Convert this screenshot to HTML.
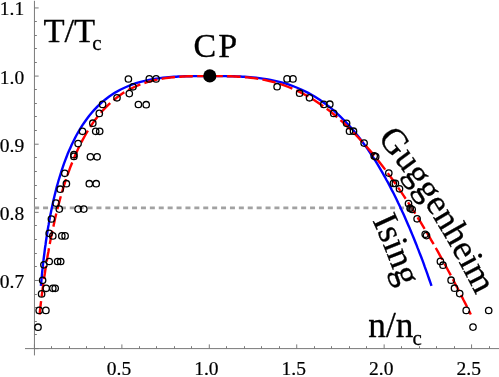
<!DOCTYPE html>
<html><head><meta charset="utf-8"><title>chart</title>
<style>html,body{margin:0;padding:0;background:#fff}body{width:499px;height:377px;overflow:hidden;font-family:"Liberation Serif",serif}</style>
</head><body>
<svg width="499" height="377" viewBox="0 0 499 377" style="display:block;will-change:transform">
<g stroke="#7a7a7a" stroke-width="1.0" fill="none">
<line x1="25" y1="348.6" x2="499" y2="348.6"/>
<line x1="34.45" y1="0.8" x2="34.45" y2="355.4"/>
<line x1="34.45" y1="348.6" x2="34.45" y2="344.40"/>
<line x1="51.50" y1="348.6" x2="51.50" y2="346.20"/>
<line x1="69.50" y1="348.6" x2="69.50" y2="346.20"/>
<line x1="86.50" y1="348.6" x2="86.50" y2="346.20"/>
<line x1="104.50" y1="348.6" x2="104.50" y2="346.20"/>
<line x1="121.88" y1="348.6" x2="121.88" y2="344.40"/>
<line x1="139.50" y1="348.6" x2="139.50" y2="346.20"/>
<line x1="156.50" y1="348.6" x2="156.50" y2="346.20"/>
<line x1="174.50" y1="348.6" x2="174.50" y2="346.20"/>
<line x1="191.50" y1="348.6" x2="191.50" y2="346.20"/>
<line x1="209.30" y1="348.6" x2="209.30" y2="344.40"/>
<line x1="226.50" y1="348.6" x2="226.50" y2="346.20"/>
<line x1="244.50" y1="348.6" x2="244.50" y2="346.20"/>
<line x1="261.50" y1="348.6" x2="261.50" y2="346.20"/>
<line x1="279.50" y1="348.6" x2="279.50" y2="346.20"/>
<line x1="296.72" y1="348.6" x2="296.72" y2="344.40"/>
<line x1="314.50" y1="348.6" x2="314.50" y2="346.20"/>
<line x1="331.50" y1="348.6" x2="331.50" y2="346.20"/>
<line x1="349.50" y1="348.6" x2="349.50" y2="346.20"/>
<line x1="366.50" y1="348.6" x2="366.50" y2="346.20"/>
<line x1="384.15" y1="348.6" x2="384.15" y2="344.40"/>
<line x1="401.50" y1="348.6" x2="401.50" y2="346.20"/>
<line x1="419.50" y1="348.6" x2="419.50" y2="346.20"/>
<line x1="436.50" y1="348.6" x2="436.50" y2="346.20"/>
<line x1="454.50" y1="348.6" x2="454.50" y2="346.20"/>
<line x1="471.57" y1="348.6" x2="471.57" y2="344.40"/>
<line x1="489.50" y1="348.6" x2="489.50" y2="346.20"/>
<line x1="34.45" y1="348.60" x2="38.65" y2="348.60"/>
<line x1="34.45" y1="334.50" x2="36.85" y2="334.50"/>
<line x1="34.45" y1="321.50" x2="36.85" y2="321.50"/>
<line x1="34.45" y1="307.50" x2="36.85" y2="307.50"/>
<line x1="34.45" y1="294.50" x2="36.85" y2="294.50"/>
<line x1="34.45" y1="280.47" x2="38.65" y2="280.47"/>
<line x1="34.45" y1="266.50" x2="36.85" y2="266.50"/>
<line x1="34.45" y1="253.50" x2="36.85" y2="253.50"/>
<line x1="34.45" y1="239.50" x2="36.85" y2="239.50"/>
<line x1="34.45" y1="225.50" x2="36.85" y2="225.50"/>
<line x1="34.45" y1="212.34" x2="38.65" y2="212.34"/>
<line x1="34.45" y1="198.50" x2="36.85" y2="198.50"/>
<line x1="34.45" y1="185.50" x2="36.85" y2="185.50"/>
<line x1="34.45" y1="171.50" x2="36.85" y2="171.50"/>
<line x1="34.45" y1="157.50" x2="36.85" y2="157.50"/>
<line x1="34.45" y1="144.21" x2="38.65" y2="144.21"/>
<line x1="34.45" y1="130.50" x2="36.85" y2="130.50"/>
<line x1="34.45" y1="116.50" x2="36.85" y2="116.50"/>
<line x1="34.45" y1="103.50" x2="36.85" y2="103.50"/>
<line x1="34.45" y1="89.50" x2="36.85" y2="89.50"/>
<line x1="34.45" y1="76.08" x2="38.65" y2="76.08"/>
<line x1="34.45" y1="62.50" x2="36.85" y2="62.50"/>
<line x1="34.45" y1="48.50" x2="36.85" y2="48.50"/>
<line x1="34.45" y1="35.50" x2="36.85" y2="35.50"/>
<line x1="34.45" y1="21.50" x2="36.85" y2="21.50"/>
<line x1="34.45" y1="7.95" x2="38.65" y2="7.95"/>
</g>
<g font-family="Liberation Serif, serif" font-size="19.5" fill="#000" stroke="#000" stroke-width="0.2">
<text x="119.0" y="375.4" text-anchor="middle">0.5</text>
<text x="206.4" y="375.4" text-anchor="middle">1.0</text>
<text x="293.8" y="375.4" text-anchor="middle">1.5</text>
<text x="381.2" y="375.4" text-anchor="middle">2.0</text>
<text x="468.7" y="375.4" text-anchor="middle">2.5</text>
<text x="24.2" y="287.9" text-anchor="end">0.7</text>
<text x="24.2" y="219.7" text-anchor="end">0.8</text>
<text x="24.2" y="151.6" text-anchor="end">0.9</text>
<text x="24.2" y="83.5" text-anchor="end">1.0</text>
<text x="24.2" y="15.3" text-anchor="end">1.1</text>
</g>
<line x1="34.45" y1="207.8" x2="412" y2="207.8" stroke="#a2a2a2" stroke-width="2.8" stroke-dasharray="5 3.9" stroke-dashoffset="0.3"/>
<path d="M40.9 285.9L41.2 282.7L41.5 279.5L41.8 276.3L42.1 273.1L42.4 269.9L42.8 266.7L43.1 263.4L43.5 260.2L43.9 257.0L44.3 253.8L44.7 250.6L45.1 247.4L45.6 244.2L46.0 241.0L46.5 237.8L47.0 234.6L47.5 231.3L48.0 228.1L48.6 224.9L49.1 221.7L49.7 218.5L50.3 215.3L51.0 212.1L51.6 208.9L52.3 205.7L53.0 202.5L53.7 199.2L54.5 196.0L55.3 192.8L56.1 189.6L56.9 186.4L57.8 183.2L58.7 180.0L59.7 176.8L60.7 173.6L61.7 170.4L62.8 167.1L63.9 163.9L65.1 160.7L66.3 157.5L67.5 154.3L68.9 151.1L70.3 147.9L71.7 144.7L73.3 141.5L74.9 138.3L76.6 135.0L78.4 131.8L80.3 128.6L82.3 125.4L84.5 122.2L86.8 119.0L89.2 115.8L91.9 112.6L94.7 109.4L97.8 106.1L101.2 102.9L105.0 99.7L109.2 96.5L109.2 96.5L115.1 92.6L120.7 89.5L126.1 87.0L131.2 84.9L136.0 83.2L140.6 81.9L144.9 80.8L149.0 79.9L152.8 79.2L156.5 78.6L159.9 78.1L163.0 77.7L166.0 77.4L168.9 77.2L171.5 77.0L174.0 76.8L176.3 76.7L178.4 76.5L180.5 76.5L182.4 76.4L184.1 76.3L185.8 76.3L187.3 76.2L188.8 76.2L190.1 76.2L191.4 76.2L192.6 76.1L193.7 76.1L194.7 76.1L195.7 76.1L196.6 76.1L197.4 76.1L198.2 76.1L199.0 76.1L199.6 76.1L200.3 76.1L200.9 76.1L201.4 76.1L202.0 76.1L202.5 76.1L202.9 76.1L203.3 76.1L203.7 76.1L204.1 76.1L204.4 76.1L204.8 76.1L205.1 76.1L205.3 76.1L205.6 76.1L209.3 76.1L209.3 76.1L213.0 76.1L213.3 76.1L213.5 76.1L213.8 76.1L214.2 76.1L214.5 76.1L214.9 76.1L215.3 76.1L215.7 76.1L216.1 76.1L216.6 76.1L217.2 76.1L217.7 76.1L218.3 76.1L219.0 76.1L219.6 76.1L220.4 76.1L221.2 76.1L222.0 76.1L222.9 76.1L223.9 76.1L224.9 76.1L226.0 76.1L227.2 76.2L228.5 76.2L229.8 76.2L231.3 76.2L232.9 76.3L234.5 76.3L236.3 76.4L238.2 76.5L240.3 76.5L242.5 76.7L244.8 76.8L247.3 77.0L250.0 77.2L252.9 77.4L256.0 77.7L259.3 78.1L262.8 78.6L266.5 79.2L270.6 79.9L274.9 80.8L279.5 81.9L284.4 83.2L289.7 84.9L295.3 87.0L301.3 89.5L307.7 92.6L314.6 96.5L314.6 96.5L319.7 99.7L324.2 102.9L328.5 106.1L332.4 109.4L336.1 112.6L339.6 115.8L342.8 119.0L346.0 122.2L348.9 125.4L351.8 128.6L354.5 131.8L357.1 135.0L359.7 138.3L362.1 141.5L364.5 144.7L366.8 147.9L369.0 151.1L371.1 154.3L373.2 157.5L375.3 160.7L377.3 163.9L379.2 167.1L381.1 170.4L383.0 173.6L384.8 176.8L386.5 180.0L388.3 183.2L390.0 186.4L391.6 189.6L393.3 192.8L394.9 196.0L396.5 199.2L398.0 202.5L399.6 205.7L401.1 208.9L402.5 212.1L404.0 215.3L405.4 218.5L406.8 221.7L408.2 224.9L409.6 228.1L410.9 231.3L412.3 234.6L413.6 237.8L414.9 241.0L416.2 244.2L417.4 247.4L418.7 250.6L419.9 253.8L421.2 257.0L422.4 260.2L423.6 263.4L424.7 266.7L425.9 269.9L427.1 273.1L428.2 276.3L429.3 279.5L430.4 282.7L431.5 285.9" fill="none" stroke="#0000ff" stroke-width="2.4" stroke-linejoin="round"/>
<g fill="none" stroke="#ff0000" stroke-width="2.4" stroke-dasharray="13.5 4.3" stroke-linejoin="round">
<path d="M39.6 314.5L40.0 310.8L40.4 307.1L40.8 303.4L41.3 299.8L41.7 296.1L42.2 292.4L42.7 288.7L43.2 285.0L43.7 281.3L44.2 277.6L44.8 273.9L45.3 270.2L45.9 266.5L46.5 262.8L47.1 259.1L47.7 255.4L48.4 251.7L49.0 248.0L49.7 244.3L50.4 240.6L51.1 236.9L51.9 233.2L52.7 229.5L53.5 225.9L54.3 222.2L55.1 218.5L56.0 214.8L56.9 211.1L57.8 207.4L58.8 203.7L59.8 200.0L60.8 196.3L61.9 192.6L63.0 188.9L64.1 185.2L65.3 181.5L66.5 177.8L67.8 174.1L69.2 170.4L70.5 166.7L72.0 163.0L73.5 159.3L75.1 155.6L76.7 151.9L78.4 148.3L80.2 144.6L82.1 140.9L84.1 137.2L86.2 133.5L88.4 129.8L90.8 126.1L93.3 122.4L96.0 118.7L98.9 115.0L102.1 111.3L105.5 107.6L109.3 103.9L113.5 100.2L118.2 96.5L118.2 96.5L123.8 92.6L129.2 89.5L134.4 87.0L139.2 84.9L143.7 83.2L148.0 81.9L152.0 80.8L155.8 79.9L159.3 79.2L162.6 78.6L165.7 78.1L168.6 77.7L171.3 77.4L173.9 77.2L176.3 77.0L178.5 76.8L180.5 76.7L182.5 76.5L184.3 76.5L186.0 76.4L187.5 76.3L189.0 76.3L190.4 76.2L191.7 76.2L192.9 76.2L194.0 76.2L195.0 76.1L196.0 76.1L196.9 76.1L197.7 76.1L198.5 76.1L199.2 76.1L199.9 76.1L200.5 76.1L201.1 76.1L201.7 76.1L202.2 76.1L202.7 76.1L203.1 76.1L203.5 76.1L203.9 76.1L204.3 76.1L204.6 76.1L205.0 76.1L205.2 76.1L205.5 76.1L205.8 76.1L206.0 76.1L206.2 76.1L209.3 76.1"/>
<path d="M209.3 76.1L212.4 76.1L212.6 76.1L212.8 76.1L213.1 76.1L213.4 76.1L213.6 76.1L214.0 76.1L214.3 76.1L214.7 76.1L215.1 76.1L215.5 76.1L215.9 76.1L216.4 76.1L216.9 76.1L217.5 76.1L218.1 76.1L218.7 76.1L219.4 76.1L220.1 76.1L220.9 76.1L221.7 76.1L222.7 76.1L223.6 76.1L224.7 76.2L225.8 76.2L227.0 76.2L228.3 76.2L229.7 76.3L231.1 76.3L232.7 76.4L234.5 76.5L236.3 76.5L238.3 76.7L240.4 76.8L242.7 77.0L245.1 77.2L247.8 77.4L250.6 77.7L253.6 78.1L256.9 78.6L260.5 79.2L264.3 79.9L268.4 80.8L272.8 81.9L277.6 83.2L282.8 84.9L288.4 87.0L294.5 89.5L301.1 92.6L308.3 96.5L308.3 96.5L314.4 100.2L320.0 103.9L325.2 107.6L330.1 111.3L334.6 115.0L339.0 118.7L343.1 122.4L347.0 126.1L350.8 129.8L354.5 133.5L358.0 137.2L361.4 140.9L364.7 144.6L368.0 148.3L371.1 151.9L374.2 155.6L377.2 159.3L380.1 163.0L383.0 166.7L385.8 170.4L388.5 174.1L391.2 177.8L393.9 181.5L396.5 185.2L399.0 188.9L401.6 192.6L404.1 196.3L406.5 200.0L408.9 203.7L411.3 207.4L413.7 211.1L416.0 214.8L418.3 218.5L420.6 222.2L422.8 225.9L425.0 229.5L427.2 233.2L429.4 236.9L431.5 240.6L433.7 244.3L435.8 248.0L437.9 251.7L439.9 255.4L442.0 259.1L444.0 262.8L446.0 266.5L448.0 270.2L450.0 273.9L452.0 277.6L453.9 281.3L455.8 285.0L457.8 288.7L459.7 292.4L461.6 296.1L463.4 299.8L465.3 303.4L467.2 307.1L469.0 310.8L470.8 314.5"/>
</g>
<circle cx="409.8" cy="208.7" r="3.2" fill="#444" fill-opacity="0.8"/>
<g fill="none" stroke="#000" stroke-width="1.3">
<circle cx="38.0" cy="327.2" r="3.2"/>
<circle cx="39.2" cy="310.4" r="3.2"/>
<circle cx="45.9" cy="310.4" r="3.2"/>
<circle cx="41.6" cy="293.9" r="3.2"/>
<circle cx="46.2" cy="288.3" r="3.2"/>
<circle cx="52.8" cy="288.3" r="3.2"/>
<circle cx="55.2" cy="288.3" r="3.2"/>
<circle cx="42.6" cy="280.3" r="3.2"/>
<circle cx="43.9" cy="264.8" r="3.2"/>
<circle cx="49.2" cy="261.5" r="3.2"/>
<circle cx="57.6" cy="261.5" r="3.2"/>
<circle cx="60.7" cy="261.5" r="3.2"/>
<circle cx="49.2" cy="233.3" r="3.2"/>
<circle cx="52.8" cy="235.9" r="3.2"/>
<circle cx="61.8" cy="235.9" r="3.2"/>
<circle cx="65.1" cy="235.9" r="3.2"/>
<circle cx="51.4" cy="219.0" r="3.2"/>
<circle cx="55.9" cy="203.1" r="3.2"/>
<circle cx="59.3" cy="209.1" r="3.2"/>
<circle cx="78.1" cy="209.1" r="3.2"/>
<circle cx="83.8" cy="209.1" r="3.2"/>
<circle cx="60.2" cy="189.2" r="3.2"/>
<circle cx="66.4" cy="183.7" r="3.2"/>
<circle cx="89.3" cy="183.7" r="3.2"/>
<circle cx="96.2" cy="183.7" r="3.2"/>
<circle cx="64.8" cy="173.3" r="3.2"/>
<circle cx="73.9" cy="154.7" r="3.2"/>
<circle cx="73.9" cy="156.4" r="3.2"/>
<circle cx="90.4" cy="156.8" r="3.2"/>
<circle cx="97.1" cy="156.8" r="3.2"/>
<circle cx="78.1" cy="143.6" r="3.2"/>
<circle cx="82.5" cy="131.3" r="3.2"/>
<circle cx="95.7" cy="131.3" r="3.2"/>
<circle cx="99.7" cy="131.3" r="3.2"/>
<circle cx="92.8" cy="123.2" r="3.2"/>
<circle cx="99.3" cy="113.4" r="3.2"/>
<circle cx="102.6" cy="104.4" r="3.2"/>
<circle cx="138.4" cy="104.5" r="3.2"/>
<circle cx="146.2" cy="104.7" r="3.2"/>
<circle cx="117.0" cy="97.8" r="3.2"/>
<circle cx="129.3" cy="93.6" r="3.2"/>
<circle cx="133.0" cy="86.8" r="3.2"/>
<circle cx="128.4" cy="79.0" r="3.2"/>
<circle cx="149.3" cy="78.9" r="3.2"/>
<circle cx="156.1" cy="78.9" r="3.2"/>
<circle cx="287.05" cy="78.9" r="3.2"/>
<circle cx="293.0" cy="78.9" r="3.2"/>
<circle cx="277.1" cy="86.7" r="3.2"/>
<circle cx="299.6" cy="93.2" r="3.2"/>
<circle cx="309.5" cy="97.8" r="3.2"/>
<circle cx="323.8" cy="104.4" r="3.2"/>
<circle cx="329.8" cy="104.2" r="3.2"/>
<circle cx="333.7" cy="113.4" r="3.2"/>
<circle cx="346.6" cy="123.3" r="3.2"/>
<circle cx="349.5" cy="131.2" r="3.2"/>
<circle cx="353.5" cy="131.2" r="3.2"/>
<circle cx="364.1" cy="143.1" r="3.2"/>
<circle cx="374.2" cy="155.9" r="3.2"/>
<circle cx="375.7" cy="156.7" r="3.2"/>
<circle cx="388.8" cy="173.1" r="3.2"/>
<circle cx="393.4" cy="183.4" r="3.2"/>
<circle cx="395.4" cy="183.4" r="3.2"/>
<circle cx="399.5" cy="188.8" r="3.2"/>
<circle cx="408.5" cy="203.6" r="3.2"/>
<circle cx="410.2" cy="208.2" r="3.2"/>
<circle cx="412.2" cy="209.5" r="3.2"/>
<circle cx="417.1" cy="218.8" r="3.2"/>
<circle cx="425.2" cy="234.3" r="3.2"/>
<circle cx="426.5" cy="235.6" r="3.2"/>
<circle cx="440.4" cy="261.4" r="3.2"/>
<circle cx="443.0" cy="265.2" r="3.2"/>
<circle cx="451.1" cy="280.2" r="3.2"/>
<circle cx="454.5" cy="288.2" r="3.2"/>
<circle cx="459.7" cy="293.6" r="3.2"/>
<circle cx="466.2" cy="310.4" r="3.2"/>
<circle cx="488.7" cy="310.5" r="3.2"/>
<circle cx="473.0" cy="327.1" r="3.2"/>
</g>
<circle cx="209.8" cy="75.9" r="6.6" fill="#000"/>
<g font-family="Liberation Serif, serif" font-size="36" fill="#000" stroke="#000" stroke-width="0.3" stroke-linejoin="round">
<text x="43.4" y="42.1" font-size="34.6">T/T<tspan font-size="21" dx="-3" dy="8">c</tspan></text>
<text x="193.5" y="57.2" font-size="34" letter-spacing="2">CP</text>
<text x="368.3" y="337.3" font-size="35.3">n/n<tspan font-size="21" dx="-0.8" dy="8">c</tspan></text>
<text transform="translate(377.34,138.44) rotate(50.91)" font-size="36">G</text>
<text transform="translate(393.65,158.68) rotate(53.55)" font-size="36">u</text>
<text transform="translate(404.34,173.17) rotate(55.35)" font-size="36">g</text>
<text transform="translate(414.57,187.98) rotate(56.90)" font-size="36">g</text>
<text transform="translate(424.39,203.07) rotate(58.17)" font-size="36">e</text>
<text transform="translate(432.82,216.64) rotate(59.29)" font-size="36">n</text>
<text transform="translate(442.01,232.12) rotate(60.34)" font-size="36">h</text>
<text transform="translate(450.91,247.76) rotate(61.22)" font-size="36">e</text>
<text transform="translate(458.59,261.78) rotate(61.83)" font-size="36">i</text>
<text transform="translate(463.37,270.56) rotate(62.64)" font-size="36">m</text>
<text transform="translate(372.24,220.35) rotate(65.55)" font-size="36">I</text>
<text transform="translate(377.21,231.26) rotate(66.78)" font-size="36">s</text>
<text transform="translate(382.71,244.14) rotate(67.79)" font-size="36">i</text>
<text transform="translate(386.53,253.39) rotate(68.83)" font-size="36">n</text>
<text transform="translate(393.02,270.18) rotate(70.01)" font-size="36">g</text>
</g>
</svg>
</body></html>
